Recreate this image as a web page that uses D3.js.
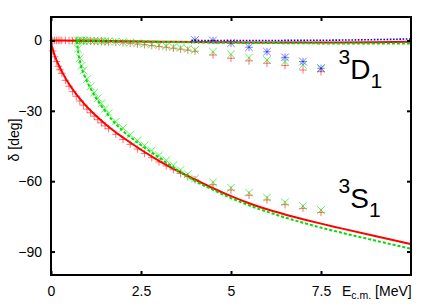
<!DOCTYPE html>
<html>
<head>
<meta charset="utf-8">
<script src="https://cdn.jsdelivr.net/npm/d3@7/dist/d3.min.js"></script>
<style>
  body { margin: 0; background: #fff; }
  svg { display: block; font-family: "Liberation Sans", Arial, sans-serif; }
</style>
</head>
<body>
<script>
// tick values
var xTicks = [0, 2.5, 5, 7.5];
var yTicks = [-90, -60, -30, 0];

// 3S1 curves (red solid, green dashed)
var s1RedE = [0, 0.02, 0.05, 0.1, 0.2, 0.3, 0.4, 0.5, 0.6, 0.8, 1.0, 1.25, 1.5, 1.75, 2.0, 2.5, 3.0, 3.5, 4.0, 4.5, 5.0, 5.5, 6.0, 6.5, 7.0, 7.5, 8.0, 9.0, 10.0];
var s1RedD = [0, -2.2, -3.8, -6.3, -10, -13.2, -16, -18.6, -20.8, -24.8, -28.3, -32.1, -35.5, -38.6, -41.4, -46.6, -51.3, -55.5, -59.3, -63.0, -66.4, -69.4, -72.0, -74.2, -76.2, -78.1, -79.9, -83.4, -86.8];
var s1GreenE = [0.72, 0.74, 0.77, 0.8, 0.85, 0.9, 1.0, 1.1, 1.25, 1.5, 1.75, 2.0, 2.5, 3.0, 3.5, 4.0, 4.5, 5.0, 5.5, 6.0, 6.5, 7.0, 7.5, 8.0, 9.0, 10.0];
var s1GreenD = [0, -3, -6.5, -8.5, -11.8, -13.8, -17.5, -20.5, -24.5, -30, -34.8, -38.6, -44.6, -49.9, -55.2, -59.9, -63.7, -67.2, -70.3, -73.0, -75.5, -77.7, -79.8, -81.7, -85.3, -88.8];

// 3D1 curves (red solid, green dashed, blue dotted)
var d1RedE = [0, 1, 2, 3, 4, 5, 6, 7, 8, 9, 10];
var d1RedD = [0, -0.1, -0.3, -0.5, -0.7, -0.8, -0.9, -0.9, -0.9, -0.8, -0.6];
var d1GreenE = [0.72, 1, 2, 3, 4, 5, 6, 7, 8, 9, 10];
var d1GreenD = [0, -0.1, -0.4, -0.6, -0.8, -1.0, -1.1, -1.2, -1.3, -1.3, -1.3];
var d1BlueE = [3.9, 5, 6, 7, 8, 9, 10];
var d1BlueD = [0, 0, 0, 0.05, 0.15, 0.35, 0.65];

// points: red +
var ptRedE = [0.05, 0.1, 0.15, 0.2, 0.25, 0.3, 0.4, 0.5, 0.6, 0.7, 0.8, 0.9, 1.0, 1.1, 1.2, 1.3, 1.4, 1.5, 1.6, 1.8, 2.0, 2.2, 2.4, 2.6, 2.8, 3.0, 3.2, 3.4, 3.6, 3.8, 4.0, 4.5, 5.0, 5.5, 6.0, 6.5, 7.0, 7.5];
var ptRedS1 = [-4.5, -7, -9, -11, -12.5, -14, -17, -19.5, -21.8, -23.8, -25.8, -27.6, -29.3, -30.8, -32.3, -33.8, -35.1, -36.4, -37.6, -40, -42.2, -44.3, -46.3, -48.2, -50, -51.8, -53.5, -55.1, -56.7, -58.1, -59.4, -61.5, -63.8, -66.0, -68.0, -70.0, -71.6, -73.3];
var ptRedD1 = [0, 0, 0, 0, 0, 0, 0, -0.1, -0.1, -0.1, -0.2, -0.2, -0.3, -0.3, -0.4, -0.4, -0.5, -0.6, -0.7, -0.8, -1.0, -1.2, -1.5, -1.8, -2.2, -2.5, -2.9, -3.3, -3.7, -4.1, -4.6, -6.2, -7.6, -8.7, -9.7, -10.7, -12.6, -13.3];

// points: green x
var ptGreenE = [0.65, 0.75, 0.8, 0.85, 0.9, 1.0, 1.1, 1.2, 1.3, 1.4, 1.5, 1.6, 1.8, 2.0, 2.2, 2.4, 2.6, 2.8, 3.0, 3.2, 3.4, 3.6, 3.8, 4.0, 4.5, 5.0, 5.5, 6.0, 6.5, 7.0, 7.5];
var ptGreenS1 = [null, -3.5, -7.5, -10.8, -12.8, -16.5, -19.5, -22.2, -24.6, -26.8, -29, -31, -34.6, -37.3, -40.2, -42.6, -44.8, -46.9, -49.0, -51.1, -53.2, -55.2, -57.0, -58.9, -60.5, -62.8, -64.9, -67.0, -69.0, -70.6, -72.3];
var ptGreenD1 = [0, 0, 0, 0, -0.1, -0.1, -0.1, -0.2, -0.2, -0.3, -0.3, -0.4, -0.5, -0.7, -0.9, -1.1, -1.4, -1.7, -2.0, -2.4, -2.8, -3.2, -3.6, -4.1, -4.8, -5.9, -7.3, -8.3, -9.0, -10.4, -11.9];

// points: blue * (3D1 only)
var ptBlueE = [4.0, 4.5, 5.0, 5.5, 6.0, 6.5, 7.0, 7.5];
var ptBlueD1 = [0.2, 0, -1.2, -2.9, -4.8, -7.2, -9.0, -11.9];

var W = 436, H = 305;
var margin = {left: 51, right: 25, top: 17, bottom: 30};

var svg = d3.select("body").append("svg")
    .attr("width", W)
    .attr("height", H);

var x = d3.scaleLinear().domain([0, 10]).range([margin.left, W - margin.right]);
var y = d3.scaleLinear().domain([-100, 10]).range([H - margin.bottom, margin.top]);

function pairs(xs, ys) {
    return xs.map(function(e, i) { return [e, ys[i]]; })
        .filter(function(d) { return d[1] != null; });
}

var plot = svg.append("g");

// markers
var s = 3.8;
var plusPath = "M" + (-s) + ",0H" + s + "M0," + (-s) + "V" + s;
var crossPath = "M" + (-s) + "," + (-s) + "L" + s + "," + s + "M" + (-s) + "," + s + "L" + s + "," + (-s);

function markers(data, shape, color, op) {
    plot.append("g").selectAll("path")
        .data(data)
        .enter().append("path")
            .attr("transform", function(d) { return "translate(" + x(d[0]) + "," + y(d[1]) + ")"; })
            .attr("d", shape)
            .attr("fill", "none")
            .attr("stroke", color)
            .attr("stroke-width", 1)
            .attr("stroke-opacity", op);
}

markers(pairs(ptRedE, ptRedS1), plusPath, "#ff0000", 0.55);
markers(pairs(ptRedE, ptRedD1), plusPath, "#ff0000", 0.55);
markers(pairs(ptGreenE, ptGreenS1), crossPath, "#00ee00", 0.65);
markers(pairs(ptGreenE, ptGreenD1), crossPath, "#00ee00", 0.65);
markers(pairs(ptBlueE, ptBlueD1), plusPath, "#0000ff", 0.5);
markers(pairs(ptBlueE, ptBlueD1), crossPath, "#0000ff", 0.5);

// curves
var line = d3.line()
    .x(function(d) { return x(d[0]); })
    .y(function(d) { return y(d[1]); })
    .curve(d3.curveMonotoneX);

function curve(xs, ys, color, width, dash) {
    plot.append("path")
        .datum(pairs(xs, ys))
        .attr("d", line)
        .attr("fill", "none")
        .attr("stroke", color)
        .attr("stroke-width", width)
        .attr("stroke-dasharray", dash);
}

curve(d1RedE, d1RedD, "#ff0000", 2, null);
curve(d1GreenE, d1GreenD, "#00dd00", 2, "3,2");
curve(d1BlueE, d1BlueD, "#0000ff", 1.6, "1.6,1.6");
curve(s1RedE, s1RedD, "#ff0000", 2, null);
curve(s1GreenE, s1GreenD, "#00dd00", 2, "3,2");

// axes, gnuplot style: ticks pointing inward on all four sides
function styleAxis(g) {
    g.select(".domain").remove();
    g.selectAll(".tick line").attr("stroke", "#000").attr("stroke-width", 2);
    g.selectAll(".tick text").attr("fill", "#000").attr("font-size", 14)
        .attr("font-family", "'Liberation Sans', Arial, sans-serif");
}

svg.append("g")
    .attr("transform", "translate(" + margin.left + ",0)")
    .call(d3.axisLeft(y).tickValues(yTicks).tickSize(-4).tickPadding(9).tickFormat(d3.format("d")))
    .call(styleAxis);

svg.append("g")
    .attr("transform", "translate(" + (W - margin.right) + ",0)")
    .call(d3.axisRight(y).tickValues(yTicks).tickSize(-4).tickFormat(""))
    .call(styleAxis);

svg.append("g")
    .attr("transform", "translate(0," + (H - margin.bottom) + ")")
    .call(d3.axisBottom(x).tickValues(xTicks).tickSize(-4).tickPadding(11).tickFormat(function(d) { return d; }))
    .call(styleAxis);

svg.append("g")
    .attr("transform", "translate(0," + margin.top + ")")
    .call(d3.axisTop(x).tickValues(xTicks).tickSize(-4).tickFormat(""))
    .call(styleAxis);

// frame
svg.append("rect")
    .attr("x", margin.left)
    .attr("y", margin.top)
    .attr("width", W - margin.left - margin.right)
    .attr("height", H - margin.top - margin.bottom)
    .attr("fill", "none")
    .attr("stroke", "#000")
    .attr("stroke-width", 2);

// axis titles
svg.append("text")
    .attr("transform", "translate(19,140) rotate(-90)")
    .attr("text-anchor", "middle")
    .attr("font-size", 14)
    .text("δ [deg]");

var xl = svg.append("text")
    .attr("x", 342)
    .attr("y", 296)
    .attr("font-size", 14);
xl.append("tspan").text("E");
xl.append("tspan").attr("font-size", 10.5).attr("dy", 3).text("c.m.");
xl.append("tspan").attr("dy", -3).text(" [MeV]");

// wave labels
function waveLabel(yb, letter) {
    var t = svg.append("text").attr("x", 338.5).attr("y", yb).attr("font-size", 28);
    t.append("tspan").attr("font-size", 21).attr("dy", -15.5).text("3");
    t.append("tspan").attr("dy", 15.5).text(letter);
    t.append("tspan").attr("font-size", 21).attr("dy", 8.5).text("1");
}
waveLabel(79, "D");
waveLabel(208, "S");
</script>
</body>
</html>
